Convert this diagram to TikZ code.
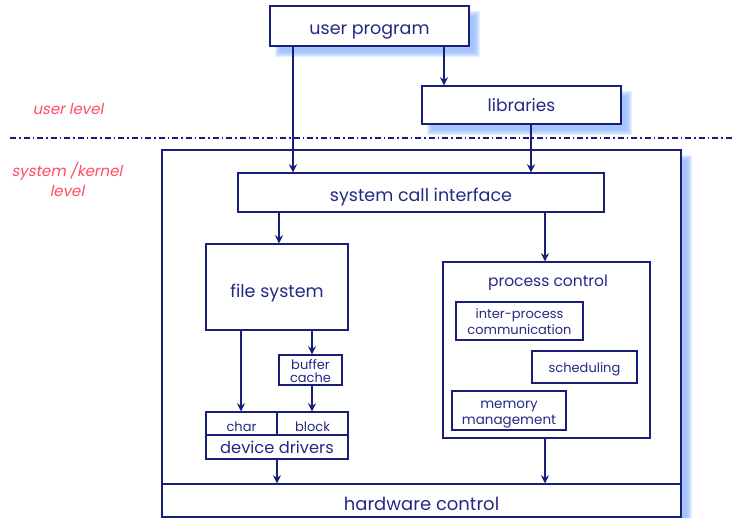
\documentclass[tikz,border=0pt]{standalone}
\usepackage{fontspec}
\setmainfont{Poppins}
\newfontfamily\slfont[FakeSlant=0.2]{Poppins}
\usetikzlibrary{arrows.meta,calc}
\definecolor{linec}{RGB}{24,30,122}
\definecolor{txtc}{RGB}{36,42,132}
\definecolor{redc}{RGB}{255,76,98}
\definecolor{shadc}{RGB}{140,180,255}
\newcommand{\fs}[1]{\fontsize{#1pt}{1.15\dimexpr #1pt\relax}\selectfont}
\newcommand{\softshadow}[1]{%
  \foreach \d in {3,2,1,0,-1,-2}{%
    \fill[shadc,opacity=0.22] ($(#1.north west)+(8-\d,8-\d)$) rectangle ($(#1.south east)+(8+\d,8+\d)$);
  }}
\begin{document}
\begin{tikzpicture}[x=1pt,y=-1pt,
  box/.style={draw=linec,line width=1.4pt,fill=white,text=txtc,inner sep=0pt,text depth=0pt},
  bl/.style={text height=#1},
  mbox/.style={draw=linec,line width=1.4pt,fill=white,inner sep=0pt},
  txt/.style={text=txtc,inner sep=0pt,anchor=base},
  arr/.style={draw=linec,line width=1.4pt,-{Stealth[length=8pt,width=8pt]}},
  lvl/.style={text=redc,inner sep=0pt,anchor=base,font=\slfont\fs{15}}]
\useasboundingbox (0,0) rectangle (735,518);
% placeholder nodes for shadow geometry
\node[minimum width=199pt,minimum height=40pt,inner sep=0pt] (up) at (369.5,26) {};
\node[minimum width=199pt,minimum height=38pt,inner sep=0pt] (lib) at (521.5,105) {};
\node[minimum width=519pt,minimum height=367pt,inner sep=0pt] (kern) at (421.5,333.5) {};
% shadows
\softshadow{up}
\softshadow{lib}
\softshadow{kern}
% boxes on top of shadows
\node[box,bl=18pt,minimum width=199pt,minimum height=40pt,font=\fs{17.5}] (up) at (369.5,26) {user program};
\node[box,bl=13.5pt,minimum width=199pt,minimum height=38pt,font=\fs{17}] (lib) at (521.5,105) {libraries};
\node[mbox,minimum width=519pt,minimum height=367pt] (kern) at (421.5,333.5) {};
% level separator
\coordinate (dl) at (10,138);
\coordinate (dr) at (735,138);
\draw[linec,line width=1.2pt,dash pattern=on 6pt off 3pt on 1.5pt off 3pt] (dl) -- (dr);
\node[lvl] (ul) at (68,115) {user level};
\node[lvl] (kl1) at (67,177) {system /kernel};
\node[lvl] (kl2) at (67,197) {level};
% inner boxes
\node[box,bl=18pt,minimum width=366pt,minimum height=39pt,font=\fs{17.5}] (sci) at (421,192.5) {system call interface};
\node[box,bl=22pt,minimum width=142pt,minimum height=86pt,font=\fs{17.5}] (fsys) at (277,287) {file system};
\node[mbox,minimum width=63pt,minimum height=30pt] (bc) at (310.5,370) {};
\node[txt,font=\fs{13}] (bc1) at (310.5,369) {buffer};
\node[txt,font=\fs{13}] (bc2) at (310.5,382) {cache};
\node[box,bl=15pt,minimum width=71pt,minimum height=23pt,font=\fs{13}] (chr) at (241.5,423.5) {char};
\node[box,bl=15pt,minimum width=71pt,minimum height=23pt,font=\fs{13}] (blk) at (312.5,423.5) {block};
\node[box,bl=12pt,minimum width=142pt,minimum height=24pt,font=\fs{16.3}] (dd) at (277,447) {device drivers};
\node[box,bl=19pt,minimum width=519pt,minimum height=33pt,font=\fs{18}] (hw) at (421.5,500.5) {hardware control};
\node[mbox,minimum width=207pt,minimum height=176pt] (pc) at (546.5,350) {};
\node[txt,font=\fs{15.5}] (pct) at (548,287) {process control};
\node[mbox,minimum width=127pt,minimum height=38pt] (ipc) at (519.5,321) {};
\node[txt,font=\fs{13}] (ipc1) at (519.5,318.5) {inter-process};
\node[txt,font=\fs{13}] (ipc2) at (519.5,334.5) {communication};
\node[box,bl=11pt,minimum width=105pt,minimum height=32pt,font=\fs{13}] (sch) at (584.5,367) {scheduling};
\node[mbox,minimum width=114pt,minimum height=39pt] (mm) at (509,410.5) {};
\node[txt,font=\fs{13.5}] (mm1) at (509,408) {memory};
\node[txt,font=\fs{13.5}] (mm2) at (509,424) {management};
% connector x positions
\coordinate (x1) at (444,0);
\coordinate (x2) at (293,0);
\coordinate (x3) at (531,0);
\coordinate (x4) at (279,0);
\coordinate (x5) at (545,0);
\coordinate (x6) at (241,0);
\coordinate (x7) at (312,0);
\coordinate (x8) at (277,0);
% connectors
\draw[arr] (up.south -| x1) -- (lib.north -| x1);
\draw[arr] (up.south -| x2) -- (sci.north -| x2);
\draw[arr] (lib.south -| x3) -- (sci.north -| x3);
\draw[arr] (sci.south -| x4) -- (fsys.north -| x4);
\draw[arr] (sci.south -| x5) -- (pc.north -| x5);
\draw[arr] (fsys.south -| x6) -- (chr.north -| x6);
\draw[arr] (fsys.south -| x7) -- (bc.north -| x7);
\draw[arr] (bc.south -| x7) -- (blk.north -| x7);
\draw[arr] (dd.south -| x8) -- (hw.north -| x8);
\draw[arr] (pc.south -| x5) -- (hw.north -| x5);
\end{tikzpicture}
\end{document}
